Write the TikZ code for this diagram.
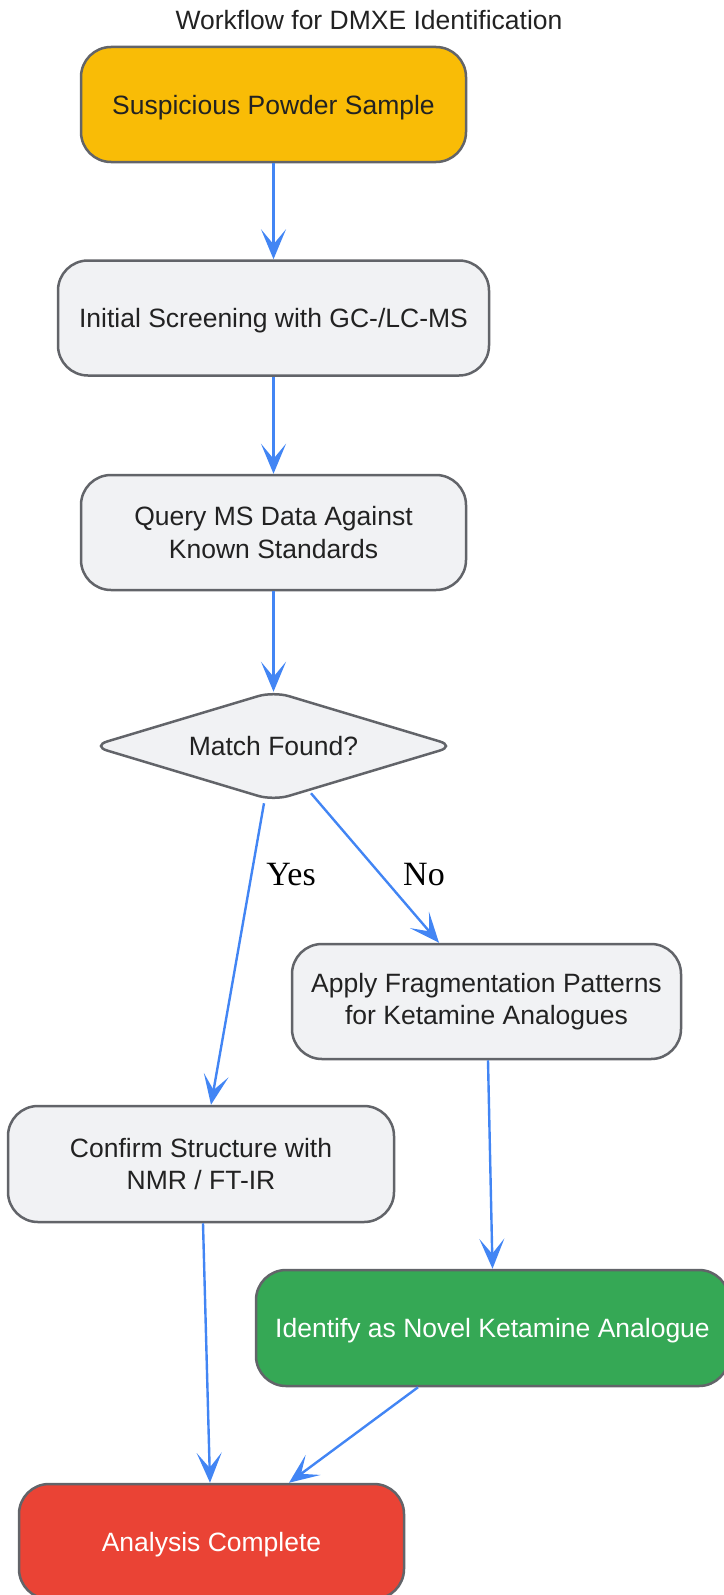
\documentclass[tikz,border=0pt]{standalone}
\usepackage{fontspec}
\setmainfont{Liberation Sans}
\newfontfamily\lblfont{Liberation Serif}
\usetikzlibrary{arrows.meta,shapes.geometric,calc}
\definecolor{nodegray}{HTML}{F1F2F4}
\definecolor{bordergray}{HTML}{626469}
\definecolor{txtdark}{HTML}{222222}
\definecolor{gyellow}{HTML}{F9BC06}
\definecolor{ggreen}{HTML}{35A855}
\definecolor{gred}{HTML}{EA4335}
\definecolor{gblue}{HTML}{4285F4}
\tikzset{
  box/.style={draw=bordergray, line width=2.5pt, rounded corners=30pt, fill=nodegray,
    inner sep=0pt, minimum height=115pt, align=center, text=txtdark,
    font=\fontsize{26.5}{32.5}\selectfont},
  oneline/.style={text depth=0pt},
  flow/.style={draw=gblue, line width=2.4pt, -{Stealth[length=30pt, width=25pt, inset=15pt]}},
  lbl/.style={font=\lblfont\fontsize{34}{40}\selectfont, text=black},
}
\begin{document}
\begin{tikzpicture}[x=1pt, y=-1pt]
\useasboundingbox (0,0) rectangle (723,1595);
\node[font=\fontsize{26.5}{32.5}\selectfont, text=txtdark] (title) at (369,20) {Workflow for DMXE Identification};
\node[box, oneline, fill=gyellow, minimum width=385pt] (n1) at (273.5,104.5) {Suspicious Powder Sample};
\node[box, oneline, minimum width=431pt] (n2) at (273.5,318) {Initial Screening with GC-/LC-MS};
\node[box, minimum width=385pt] (n3) at (273.5,532.5) {Query MS Data Against\\Known Standards};
\node[diamond, draw=bordergray, line width=2.5pt, fill=nodegray, rounded corners=16pt,
  aspect=3.34, minimum width=364pt, minimum height=110pt, inner sep=0pt, text=txtdark,
  font=\fontsize{26.5}{32.5}\selectfont] (dec) at (273.5,746) {Match Found?};
\node[box, minimum width=389pt] (apply) at (486.5,1001.5) {Apply Fragmentation Patterns\\for Ketamine Analogues};
\node[box, minimum width=386pt, minimum height=116pt] (conf) at (201,1164) {Confirm Structure with\\NMR / FT-IR};
\node[box, oneline, fill=ggreen, text=white, minimum width=473pt, minimum height=116pt] (ident) at (492.5,1328) {Identify as Novel Ketamine Analogue};
\node[box, oneline, fill=gred, text=white, minimum width=385pt] (final) at (211.5,1541.5) {Analysis Complete};

\draw[flow] (n1.south) -- (n2.north);
\draw[flow] (n2.south) -- (n3.north);
\draw[flow] (n3.south) -- ([yshift=-2pt]dec.north);
\draw[flow] ([xshift=-9.5pt,yshift=-1pt]dec.south) -- ([xshift=10pt]conf.north);
\draw[flow] ([xshift=37.5pt,yshift=9pt]dec.south) -- ([xshift=-47.5pt]apply.north);
\draw[flow] ([xshift=1.5pt]apply.south) -- (ident.north);
\draw[flow] ([xshift=2pt]conf.south) -- ([xshift=-1.5pt]final.north);
\draw[flow] ([xshift=-74.5pt]ident.south) -- ([xshift=77.5pt]final.north);

\node[lbl] (yes) at (291,874.5) {Yes};
\node[lbl] (no) at (424,874.5) {No};
\end{tikzpicture}
\end{document}
